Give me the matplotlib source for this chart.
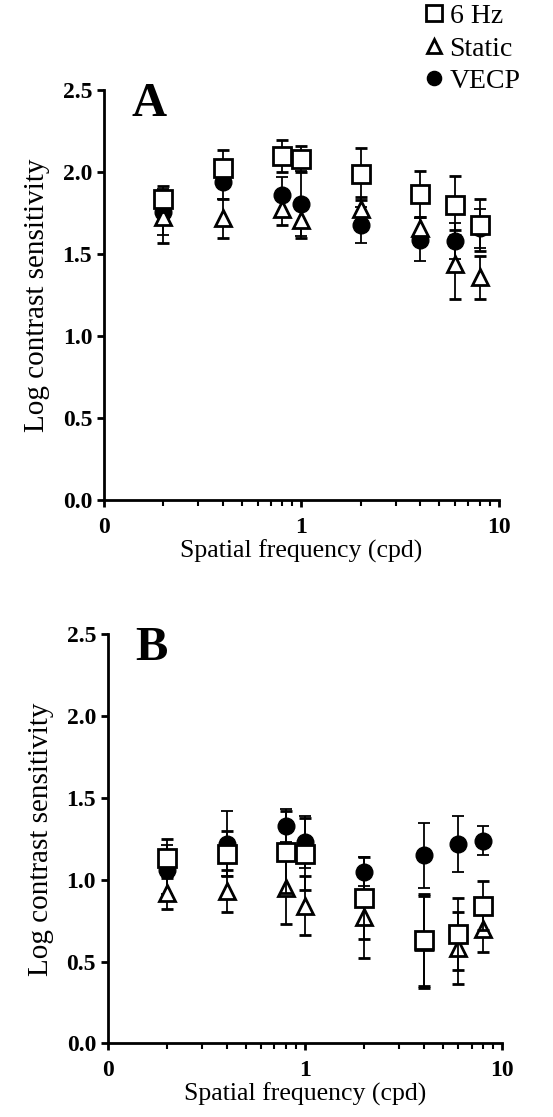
import matplotlib.pyplot as plt
import numpy as np
from matplotlib.ticker import FixedLocator, LogLocator, NullFormatter

plt.rcParams['font.family'] = ['Liberation Serif', 'DejaVu Serif']

freq = [0.2, 0.4, 0.8, 1.0, 2.0, 4.0, 6.0, 8.0]

# panel A
a_6hz = [1.84, 2.03, 2.10, 2.08, 1.99, 1.87, 1.80, 1.68]
a_6hz_err = [0.08, 0.11, 0.10, 0.08, 0.16, 0.14, 0.18, 0.16]
a_static = [1.73, 1.72, 1.78, 1.71, 1.78, 1.66, 1.44, 1.36]
a_static_err = [0.16, 0.12, 0.10, 0.11, 0.07, 0.07, 0.21, 0.13]
a_vecp = [1.76, 1.94, 1.86, 1.81, 1.68, 1.59, 1.58, 1.66]
a_vecp_err = [0.14, 0.10, 0.11, 0.20, 0.11, 0.13, 0.11, 0.12]

# panel B
b_6hz = [1.13, 1.16, 1.17, 1.16, 0.89, 0.63, 0.67, 0.84]
b_6hz_err = [0.12, 0.14, 0.25, 0.22, 0.25, 0.28, 0.22, 0.15]
b_static = [0.92, 0.93, 0.95, 0.84, 0.77, 0.62, 0.58, 0.70]
b_static_err = [0.10, 0.13, 0.22, 0.18, 0.25, 0.28, 0.22, 0.14]
b_vecp = [1.06, 1.22, 1.33, 1.23, 1.05, 1.15, 1.22, 1.24]
b_vecp_err = [0.15, 0.20, 0.10, 0.16, 0.09, 0.20, 0.17, 0.09]

fig = plt.figure(figsize=(5.53, 11.17), dpi=100)
axA = fig.add_axes([0.188, 0.552, 0.714, 0.367])
axB = fig.add_axes([0.195, 0.066, 0.713, 0.366])


def draw(ax, s6, e6, st, est, vc, evc, letter):
    eb = dict(ecolor='black', elinewidth=1.3, capsize=4, capthick=1.3, ls='none')
    ax.errorbar(freq, vc, yerr=evc, marker='o', ms=12, mfc='black', mec='black',
                label='VECP', zorder=2, **eb)
    ax.errorbar(freq, st, yerr=est, marker='^', ms=12, mfc='white', mec='black',
                mew=2, label='Static', zorder=3, **eb)
    ax.errorbar(freq, s6, yerr=e6, marker='s', ms=13, mfc='white', mec='black',
                mew=2, label='6 Hz', zorder=4, **eb)
    ax.set_xscale('log')
    ax.set_xlim(0.1, 10)
    ax.set_ylim(0, 2.5)
    ax.xaxis.set_major_locator(FixedLocator([0.1, 1, 10]))
    ax.set_xticklabels(['0', '1', '10'])
    ax.xaxis.set_minor_locator(LogLocator(base=10, subs=np.arange(2, 10)))
    ax.xaxis.set_minor_formatter(NullFormatter())
    ax.set_yticks([0, 0.5, 1.0, 1.5, 2.0, 2.5])
    ax.set_yticklabels(['0.0', '0.5', '1.0', '1.5', '2.0', '2.5'])
    for s in ['top', 'right']:
        ax.spines[s].set_visible(False)
    for s in ['left', 'bottom']:
        ax.spines[s].set_linewidth(2)
    ax.tick_params(which='major', direction='out', length=5, width=2, labelsize=17)
    ax.tick_params(axis='x', which='major', pad=7)
    ax.tick_params(which='minor', direction='out', length=4, width=1.5)
    for lab in ax.get_xticklabels() + ax.get_yticklabels():
        lab.set_fontweight('bold')
    ax.set_xlabel('Spatial frequency (cpd)', fontsize=18.5, labelpad=1)
    ax.set_ylabel('Log contrast sensitivity', fontsize=21, labelpad=9)
    ax.text(0.07, 1.02, letter, transform=ax.transAxes, fontsize=35,
            fontweight='bold', va='top', ha='left')


draw(axA, a_6hz, a_6hz_err, a_static, a_static_err, a_vecp, a_vecp_err, 'A')
draw(axB, b_6hz, b_6hz_err, b_static, b_static_err, b_vecp, b_vecp_err, 'B')

h, l = axA.get_legend_handles_labels()
h = [hh[0] for hh in h]
fig.legend(h[::-1], l[::-1], loc='upper left', bbox_to_anchor=(0.715, 1.019),
           frameon=False, fontsize=20, handletextpad=0.05, labelspacing=0.25,
           handlelength=1.0, markerscale=0.85)

fig.savefig('out.png', dpi=100)
